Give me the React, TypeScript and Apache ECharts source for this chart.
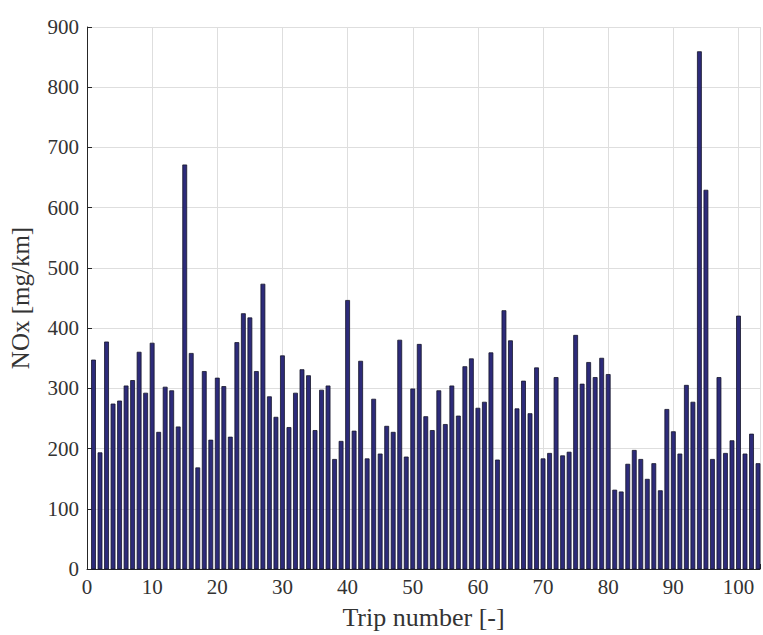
import React, { useEffect, useRef } from "react";
import * as echarts from "echarts";

const tripNumbers: number[] = Array.from({ length: 103 }, (_, i) => i + 1);
const noxValues: number[] = [
  347, 193, 377, 274, 279, 304, 313, 360, 292, 375,
  227, 302, 296, 236, 671, 358, 168, 328, 214, 317,
  303, 219, 376, 424, 417, 328, 473, 286, 252, 354,
  235, 292, 331, 321, 230, 297, 304, 182, 212, 446,
  229, 345, 183, 282, 191, 237, 227, 380, 186, 299,
  373, 253, 230, 296, 240, 304, 254, 336, 349, 267,
  277, 359, 181, 429, 379, 266, 312, 258, 334, 183,
  192, 318, 188, 194, 388, 307, 343, 318, 350, 323,
  131, 128, 174, 197, 182, 149, 175, 130, 265, 228,
  191, 305, 277, 859, 629, 182, 318, 192, 213, 420,
  191, 224, 175,
];
const xTickInterval = 10;
const yTickInterval = 100;

const FONT = "Liberation Serif";
const TEXT = "#333333";
const BAR_FILL = "#2d2b7a";
const BAR_EDGE = "#15152a";

export default function App() {
  const ref = useRef<HTMLDivElement>(null);
  useEffect(() => {
    if (!ref.current) return;
    const chart = echarts.init(ref.current, undefined, { renderer: "svg" });
    chart.setOption({
      animation: false,
      backgroundColor: "#ffffff",
      grid: { left: 85, right: 1, top: 27, bottom: 64, containLabel: false },
      xAxis: {
        type: "value",
        min: 0,
        max: 103.3,
        interval: xTickInterval,
        name: "Trip number [-]",
        nameLocation: "middle",
        nameGap: 35,
        nameTextStyle: { fontFamily: FONT, fontSize: 26, color: TEXT },
        axisLine: { show: true, onZero: false, lineStyle: { color: "#262626", width: 1 } },
        axisTick: { show: true, inside: true, length: 5, lineStyle: { color: "#262626" } },
        axisLabel: {
          fontFamily: FONT,
          fontSize: 21,
          color: TEXT,
          margin: 7,
          formatter: (v: number) => (v % 10 === 0 ? String(v) : ""),
        },
        splitLine: { show: true, lineStyle: { color: "#dedede", width: 1 } },
      },
      yAxis: {
        type: "value",
        min: 0,
        max: 900,
        interval: yTickInterval,
        name: "NOx [mg/km]",
        nameLocation: "middle",
        nameGap: 54,
        nameTextStyle: { fontFamily: FONT, fontSize: 25, color: TEXT },
        axisLine: { show: true, onZero: false, lineStyle: { color: "#262626", width: 1 } },
        axisTick: { show: true, inside: true, length: 5, lineStyle: { color: "#262626" } },
        axisLabel: { fontFamily: FONT, fontSize: 21, color: TEXT, margin: 8 },
        splitLine: { show: true, lineStyle: { color: "#dedede", width: 1 } },
      },
      series: [
        {
          type: "custom",
          data: tripNumbers.map((t, i) => [t, noxValues[i]]),
          encode: { x: 0, y: 1 },
          renderItem: (params: any, api: any) => {
            const top = api.coord([api.value(0), api.value(1)]);
            const base = api.coord([api.value(0), 0]);
            const w = 4;
            return {
              type: "rect",
              shape: { x: top[0] - w / 2, y: top[1], width: w, height: base[1] - top[1] },
              style: { fill: BAR_FILL, stroke: BAR_EDGE, lineWidth: 0.8 },
            };
          },
        },
      ],
    });
    return () => chart.dispose();
  }, []);
  return <div ref={ref} style={{ width: 763, height: 635, position: "absolute", left: 0, top: 0 }} />;
}
